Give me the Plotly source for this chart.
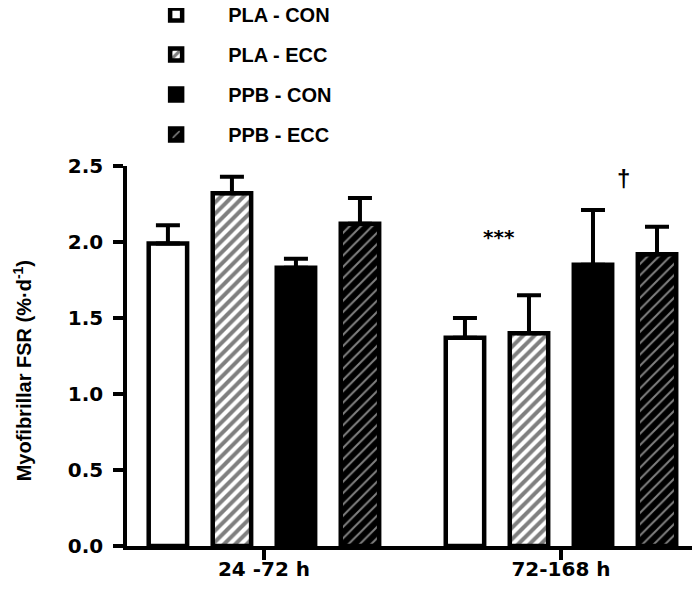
import plotly.graph_objects as go

categories = ["24 -72 h", "72-168 h"]
series_names = ["PLA - CON", "PLA - ECC", "PPB - CON", "PPB - ECC"]
pla_con = [1.99, 1.37]
pla_con_err = [0.12, 0.13]
pla_ecc = [2.32, 1.40]
pla_ecc_err = [0.11, 0.25]
ppb_con = [1.83, 1.85]
ppb_con_err = [0.06, 0.36]
ppb_ecc = [2.12, 1.92]
ppb_ecc_err = [0.17, 0.18]
y_ticks = [0.0, 0.5, 1.0, 1.5, 2.0, 2.5]
y_max = 2.5
star_pos = (0.79, 2.03)
dagger_pos = (1.212, 2.52)
y_title = "Myofibrillar FSR (%·d<sup>-1</sup>)"

FONT = "Liberation Sans, Arial, Helvetica, sans-serif"
WIDE = "DejaVu Sans, Liberation Sans, sans-serif"

styles = [
    dict(color="white", pattern=None),
    dict(color="white", pattern=dict(shape="/", fgcolor="black", bgcolor="white", size=8, solidity=0.5)),
    dict(color="black", pattern=None),
    dict(color="black", pattern=dict(shape="/", fgcolor="white", bgcolor="black", size=8, solidity=0.25)),
]
values = [pla_con, pla_ecc, ppb_con, ppb_ecc]
errors = [pla_con_err, pla_ecc_err, ppb_con_err, ppb_ecc_err]

fig = go.Figure()
for i, (name, vals, errs, st) in enumerate(zip(series_names, values, errors, styles)):
    marker = dict(color=st["color"], line=dict(color="black", width=4.5))
    if st["pattern"]:
        marker["pattern"] = st["pattern"]
    fig.add_trace(go.Bar(
        x=[0, 1], y=vals, name=name, legendgroup=name,
        marker=marker,
        error_y=dict(type="data", array=errs, arrayminus=[0] * len(errs), symmetric=False,
                     color="black", thickness=4, width=12),
    ))

fig.add_annotation(x=star_pos[0], y=star_pos[1], xref="x", yref="y", text="***", showarrow=False,
                   font=dict(family=WIDE, size=20, color="black", weight="bold"))
fig.add_annotation(x=dagger_pos[0], y=dagger_pos[1] / y_max, xref="x", yref="paper", text="†",
                   showarrow=False,
                   font=dict(family=FONT, size=24, color="black", weight="bold"))
fig.add_annotation(x=-0.183, y=0.46, xref="paper", yref="paper", text=y_title, textangle=-90,
                   showarrow=False, xanchor="center", yanchor="middle",
                   font=dict(family=FONT, size=20, color="black", weight="bold"))

fig.update_layout(
    width=692, height=582,
    margin=dict(l=119, r=0, t=158, b=44, autoexpand=False),
    plot_bgcolor="white", paper_bgcolor="white",
    barmode="group", bargap=0.138, bargroupgap=0.4,
    font=dict(family=FONT, color="black"),
    showlegend=True,
    legend=dict(xref="paper", yref="paper", x=-0.005, y=1.45, xanchor="left", yanchor="top",
                font=dict(family=FONT, size=20, color="black", weight="bold"),
                tracegroupgap=11, traceorder="grouped", itemwidth=94,
                bgcolor="rgba(0,0,0,0)"),
)
fig.update_xaxes(
    range=[-0.461, 1.468], tickvals=[0, 1], ticktext=categories,
    showline=True, linecolor="black", linewidth=3.5,
    ticks="outside", ticklen=10, tickwidth=3.5, tickcolor="black",
    ticklabelstandoff=-8,
    tickfont=dict(family=WIDE, size=20, color="black", weight="bold"),
    showgrid=False, zeroline=False, automargin=False,
)
fig.update_yaxes(
    range=[0, y_max], tickvals=y_ticks, tickformat=".1f",
    showline=True, linecolor="black", linewidth=3.5,
    ticks="outside", ticklen=10, tickwidth=3.5, tickcolor="black",
    ticklabelstandoff=6,
    tickfont=dict(family=WIDE, size=20, color="black", weight="bold"),
    showgrid=False, zeroline=False, automargin=False,
)

fig.write_html("out.html")
